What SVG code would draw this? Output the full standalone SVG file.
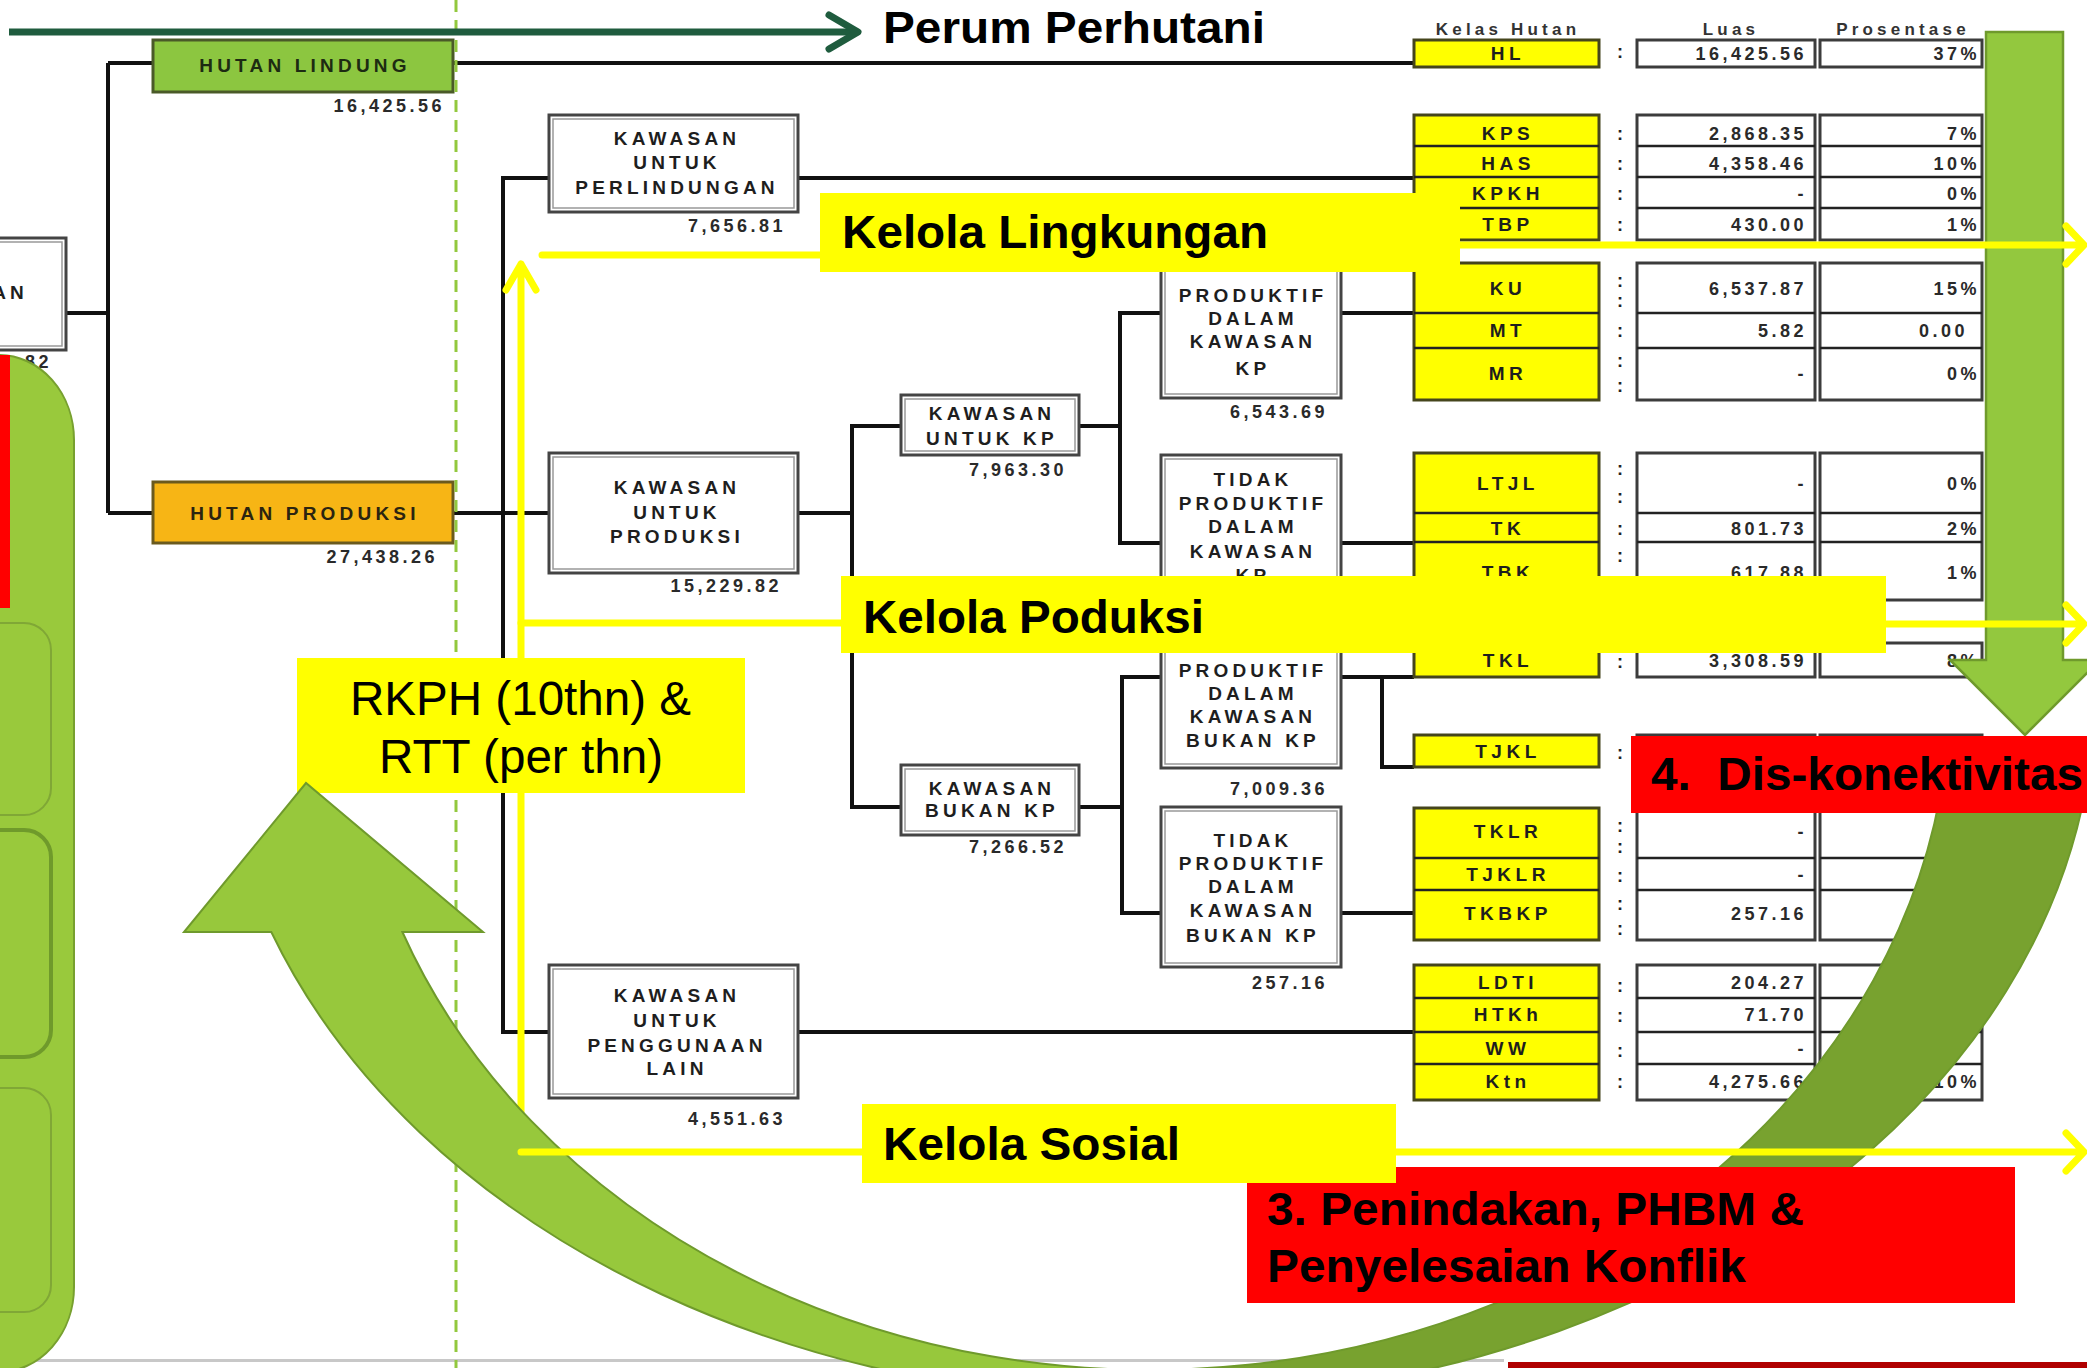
<svg xmlns="http://www.w3.org/2000/svg" width="2087" height="1368" viewBox="0 0 2087 1368">
<defs>
<style>
.t{font-family:"Liberation Sans",Arial,sans-serif;font-weight:bold;font-size:19px;letter-spacing:4.2px;fill:#1e1e1e;text-anchor:middle}
.n{font-family:"Liberation Sans",Arial,sans-serif;font-weight:bold;font-size:18px;letter-spacing:3.5px;fill:#2a2a2a;text-anchor:end}
.k{font-family:"Liberation Sans",Arial,sans-serif;font-weight:bold;font-size:19px;letter-spacing:4.5px;fill:#1e1e1e;text-anchor:middle}
.c{font-family:"Liberation Sans",Arial,sans-serif;font-weight:bold;font-size:18px;fill:#222;text-anchor:middle}
.h{font-family:"Liberation Sans",Arial,sans-serif;font-weight:bold;font-size:17px;letter-spacing:4.2px;fill:#333;text-anchor:middle}
.big{font-family:"Liberation Sans",Arial,sans-serif;font-weight:bold;font-size:47px;fill:#000}
.rk{font-family:"Liberation Sans",Arial,sans-serif;font-size:48px;fill:#000}
.box{fill:#fff;stroke:#444;stroke-width:3}
.boxi{fill:none;stroke:#999;stroke-width:1.5}
.ln{stroke:#111;stroke-width:4;fill:none}
.yc{fill:#ffff00;stroke:#45451c;stroke-width:3}
.wc{fill:#fff;stroke:#3c3c3c;stroke-width:3}
.sep{stroke:#222;stroke-width:2.5;fill:none}
.yl{stroke:#ffff00;stroke-width:7;fill:none;stroke-linecap:round;stroke-linejoin:round}
.yb{fill:#ffff00}
.rb{fill:#ff0000}
</style>
<linearGradient id="arcg" gradientUnits="userSpaceOnUse" x1="0" y1="0" x2="2087" y2="0">
<stop offset="0" stop-color="#97c83c"/><stop offset="0.551" stop-color="#97c83c"/><stop offset="0.551" stop-color="#78a22f"/><stop offset="1" stop-color="#78a22f"/>
</linearGradient>
</defs>
<rect x="0" y="0" width="2087" height="1368" fill="#fff"/>
<g id="slide-border">
<rect x="0" y="1359" width="1504" height="3" fill="#c8c8c8"/>
<rect x="1508" y="1362" width="590" height="6" fill="#b00000"/>
</g>
<g id="connectors">
<path class="ln" d="M66 313H108M108 63V513M108 63H153M108 513H153"/>
<path class="ln" d="M453 63H1414M453 513H549"/>
<path class="ln" d="M549 178H503V1032H549M798 178H1414M798 1032H1414"/>
<path class="ln" d="M798 513H852M901 426H852V807H901"/>
<path class="ln" d="M1079 426H1120M1161 313H1120V543H1161M1341 313H1414M1341 543H1414"/>
<path class="ln" d="M1079 807H1122M1161 677H1122V913H1161M1341 913H1414"/>
<path class="ln" d="M1341 677H1414M1382 677V767H1414"/>
</g>
<g id="nodes">
<g id="n-root">
<rect class="box" x="-10" y="238" width="76" height="112"/><rect class="boxi" x="-6" y="242" width="68" height="104"/>
<text class="t" x="28" y="299" style="text-anchor:end">AN</text>
<text class="n" x="52" y="368">43,863.82</text>
</g>
<g id="n-hl">
<rect x="153" y="40" width="300" height="52" fill="#8cc640" stroke="#4a5a28" stroke-width="3"/>
<text class="t" x="305" y="72" style="fill:#1d2b12">HUTAN LINDUNG</text>
<text class="n" x="445" y="112">16,425.56</text>
</g>
<g id="n-hp">
<rect x="153" y="482" width="300" height="61" fill="#f7b515" stroke="#6b5a1e" stroke-width="3"/>
<text class="t" x="305" y="520" style="fill:#2b2410">HUTAN PRODUKSI</text>
<text class="n" x="438" y="563">27,438.26</text>
</g>
<g id="n-kup">
<rect class="box" x="549" y="115" width="249" height="97"/><rect class="boxi" x="553" y="119" width="241" height="89"/>
<text class="t" x="677" y="145">KAWASAN</text><text class="t" x="677" y="169">UNTUK</text><text class="t" x="677" y="194">PERLINDUNGAN</text>
<text class="n" x="786" y="232">7,656.81</text>
</g>
<g id="n-kupr">
<rect class="box" x="549" y="453" width="249" height="120"/><rect class="boxi" x="553" y="457" width="241" height="112"/>
<text class="t" x="677" y="494">KAWASAN</text><text class="t" x="677" y="519">UNTUK</text><text class="t" x="677" y="543">PRODUKSI</text>
<text class="n" x="782" y="592">15,229.82</text>
</g>
<g id="n-kupl">
<rect class="box" x="549" y="965" width="249" height="133"/><rect class="boxi" x="553" y="969" width="241" height="125"/>
<text class="t" x="677" y="1002">KAWASAN</text><text class="t" x="677" y="1027">UNTUK</text><text class="t" x="677" y="1052">PENGGUNAAN</text><text class="t" x="677" y="1075">LAIN</text>
<text class="n" x="786" y="1125">4,551.63</text>
</g>
<g id="n-kkp">
<rect class="box" x="901" y="395" width="178" height="60"/><rect class="boxi" x="905" y="399" width="170" height="52"/>
<text class="t" x="992" y="420">KAWASAN</text><text class="t" x="992" y="445">UNTUK KP</text>
<text class="n" x="1067" y="476">7,963.30</text>
</g>
<g id="n-kbkp">
<rect class="box" x="901" y="765" width="178" height="70"/><rect class="boxi" x="905" y="769" width="170" height="62"/>
<text class="t" x="992" y="795">KAWASAN</text><text class="t" x="992" y="817">BUKAN KP</text>
<text class="n" x="1067" y="853">7,266.52</text>
</g>
<g id="n-pkp">
<rect class="box" x="1161" y="262" width="180" height="136"/><rect class="boxi" x="1165" y="266" width="172" height="128"/>
<text class="t" x="1253" y="302">PRODUKTIF</text><text class="t" x="1253" y="325">DALAM</text><text class="t" x="1253" y="348">KAWASAN</text><text class="t" x="1253" y="375">KP</text>
<text class="n" x="1328" y="418">6,543.69</text>
</g>
<g id="n-tpkp">
<rect class="box" x="1161" y="455" width="180" height="150"/><rect class="boxi" x="1165" y="459" width="172" height="142"/>
<text class="t" x="1253" y="486">TIDAK</text><text class="t" x="1253" y="510">PRODUKTIF</text><text class="t" x="1253" y="533">DALAM</text><text class="t" x="1253" y="558">KAWASAN</text><text class="t" x="1253" y="582">KP</text>
</g>
<g id="n-pbkp">
<rect class="box" x="1161" y="640" width="180" height="128"/><rect class="boxi" x="1165" y="644" width="172" height="120"/>
<text class="t" x="1253" y="677">PRODUKTIF</text><text class="t" x="1253" y="700">DALAM</text><text class="t" x="1253" y="723">KAWASAN</text><text class="t" x="1253" y="747">BUKAN KP</text>
<text class="n" x="1328" y="795">7,009.36</text>
</g>
<g id="n-tpbkp">
<rect class="box" x="1161" y="807" width="180" height="160"/><rect class="boxi" x="1165" y="811" width="172" height="152"/>
<text class="t" x="1253" y="847">TIDAK</text><text class="t" x="1253" y="870">PRODUKTIF</text><text class="t" x="1253" y="893">DALAM</text><text class="t" x="1253" y="917">KAWASAN</text><text class="t" x="1253" y="942">BUKAN KP</text>
<text class="n" x="1328" y="989">257.16</text>
</g>
</g>
<g id="table">
<text class="h" x="1508" y="35">Kelas Hutan</text>
<text class="h" x="1731" y="35">Luas</text>
<text class="h" x="1903" y="35">Prosentase</text>
<g id="t-hl">
<rect class="yc" x="1414" y="40" width="185" height="27"/><rect class="wc" x="1637" y="40" width="178" height="27"/><rect class="wc" x="1820" y="40" width="162" height="27"/>
<text class="k" x="1508" y="60">HL</text><text class="c" x="1620" y="58">:</text>
<text class="n" x="1807" y="60">16,425.56</text><text class="n" x="1980" y="60">37%</text>
</g>
<g id="t-g1">
<rect class="yc" x="1414" y="115" width="185" height="125"/><rect class="wc" x="1637" y="115" width="178" height="125"/><rect class="wc" x="1820" y="115" width="162" height="125"/>
<path class="sep" d="M1414 146H1599M1414 177H1599M1414 208H1599M1637 146H1815M1637 177H1815M1637 208H1815M1820 146H1982M1820 177H1982M1820 208H1982"/>
<text class="k" x="1508" y="140">KPS</text><text class="k" x="1508" y="170">HAS</text><text class="k" x="1508" y="200">KPKH</text><text class="k" x="1508" y="231">TBP</text>
<text class="c" x="1620" y="140">:</text><text class="c" x="1620" y="170">:</text><text class="c" x="1620" y="200">:</text><text class="c" x="1620" y="231">:</text>
<text class="n" x="1807" y="140">2,868.35</text><text class="n" x="1807" y="170">4,358.46</text><text class="n" x="1807" y="200">-</text><text class="n" x="1807" y="231">430.00</text>
<text class="n" x="1980" y="140">7%</text><text class="n" x="1980" y="170">10%</text><text class="n" x="1980" y="200">0%</text><text class="n" x="1980" y="231">1%</text>
</g>
<g id="t-g2">
<rect class="yc" x="1414" y="263" width="185" height="137"/><rect class="wc" x="1637" y="263" width="178" height="137"/><rect class="wc" x="1820" y="263" width="162" height="137"/>
<path class="sep" d="M1414 313H1599M1414 348H1599M1637 313H1815M1637 348H1815M1820 313H1982M1820 348H1982"/>
<text class="k" x="1508" y="295">KU</text><text class="k" x="1508" y="337">MT</text><text class="k" x="1508" y="380">MR</text>
<text class="c" x="1620" y="287">:</text><text class="c" x="1620" y="307">:</text><text class="c" x="1620" y="337">:</text><text class="c" x="1620" y="367">:</text><text class="c" x="1620" y="392">:</text>
<text class="n" x="1807" y="295">6,537.87</text><text class="n" x="1807" y="337">5.82</text><text class="n" x="1807" y="380">-</text>
<text class="n" x="1980" y="295">15%</text><text class="n" x="1968" y="337">0.00</text><text class="n" x="1980" y="380">0%</text>
</g>
<g id="t-g3">
<rect class="yc" x="1414" y="453" width="185" height="224"/><rect class="wc" x="1637" y="453" width="178" height="147"/><rect class="wc" x="1820" y="453" width="162" height="147"/>
<rect class="wc" x="1637" y="643" width="178" height="34"/><rect class="wc" x="1820" y="643" width="162" height="34"/>
<path class="sep" d="M1414 513H1599M1414 542H1599M1414 620H1599M1637 513H1815M1637 542H1815M1820 513H1982M1820 542H1982"/>
<text class="k" x="1508" y="490">LTJL</text><text class="k" x="1508" y="535">TK</text><text class="k" x="1508" y="579">TBK</text><text class="k" x="1508" y="667">TKL</text>
<text class="c" x="1620" y="475">:</text><text class="c" x="1620" y="503">:</text><text class="c" x="1620" y="535">:</text><text class="c" x="1620" y="562">:</text><text class="c" x="1620" y="668">:</text>
<text class="n" x="1807" y="490">-</text><text class="n" x="1807" y="535">801.73</text><text class="n" x="1807" y="579">617.88</text><text class="n" x="1807" y="667">3,308.59</text>
<text class="n" x="1980" y="490">0%</text><text class="n" x="1980" y="535">2%</text><text class="n" x="1980" y="579">1%</text><text class="n" x="1980" y="667">8%</text>
</g>
<g id="t-tjkl">
<rect class="yc" x="1414" y="735" width="185" height="32"/><rect class="wc" x="1637" y="735" width="178" height="32"/><rect class="wc" x="1820" y="735" width="162" height="32"/>
<text class="k" x="1508" y="758">TJKL</text><text class="c" x="1620" y="759">:</text>
</g>
<g id="t-g4">
<rect class="yc" x="1414" y="808" width="185" height="132"/><rect class="wc" x="1637" y="808" width="178" height="132"/><rect class="wc" x="1820" y="808" width="162" height="132"/>
<path class="sep" d="M1414 858H1599M1414 890H1599M1637 858H1815M1637 890H1815M1820 858H1982M1820 890H1982"/>
<text class="k" x="1508" y="838">TKLR</text><text class="k" x="1508" y="881">TJKLR</text><text class="k" x="1508" y="920">TKBKP</text>
<text class="c" x="1620" y="832">:</text><text class="c" x="1620" y="853">:</text><text class="c" x="1620" y="882">:</text><text class="c" x="1620" y="910">:</text><text class="c" x="1620" y="935">:</text>
<text class="n" x="1807" y="838">-</text><text class="n" x="1807" y="881">-</text><text class="n" x="1807" y="920">257.16</text>
</g>
<g id="t-g5">
<rect class="yc" x="1414" y="965" width="185" height="135"/><rect class="wc" x="1637" y="965" width="178" height="135"/><rect class="wc" x="1820" y="965" width="162" height="135"/>
<path class="sep" d="M1414 998H1599M1414 1032H1599M1414 1064H1599M1637 998H1815M1637 1032H1815M1637 1064H1815M1820 998H1982M1820 1032H1982M1820 1064H1982"/>
<text class="k" x="1508" y="989">LDTI</text><text class="k" x="1508" y="1021">HTKh</text><text class="k" x="1508" y="1055">WW</text><text class="k" x="1508" y="1088">Ktn</text>
<text class="c" x="1620" y="992">:</text><text class="c" x="1620" y="1022">:</text><text class="c" x="1620" y="1057">:</text><text class="c" x="1620" y="1088">:</text>
<text class="n" x="1807" y="989">204.27</text><text class="n" x="1807" y="1021">71.70</text><text class="n" x="1807" y="1055">-</text><text class="n" x="1807" y="1088">4,275.66</text>
<text class="n" x="1980" y="1088">10%</text>
</g>
</g>
<g id="left-panel">
<rect x="-140" y="355" width="214" height="1017" rx="75" ry="85" fill="#99c93c" stroke="#77a02f" stroke-width="2"/>
<rect x="-100" y="623" width="151" height="192" rx="27" ry="27" fill="none" stroke="#80a736" stroke-width="2"/>
<rect x="-100" y="830" width="151" height="227" rx="27" ry="27" fill="none" stroke="#6f9a2b" stroke-width="4"/>
<rect x="-100" y="1088" width="151" height="224" rx="27" ry="27" fill="none" stroke="#80a736" stroke-width="2"/>
<rect x="0" y="355" width="10" height="253" fill="#ff0000"/>
</g>
<line x1="456" y1="0" x2="456" y2="1368" stroke="#92c83e" stroke-width="3" stroke-dasharray="12 8"/>
<g id="yellow-vertical">
<path class="yl" d="M521 264V1152M506 290L521 264L536 290"/>
</g>
<g id="rkph">
<rect class="yb" x="297" y="658" width="448" height="135"/>
<text class="rk" x="350" y="715" textLength="341" lengthAdjust="spacingAndGlyphs">RKPH (10thn) &amp;</text>
<text class="rk" x="379" y="773" textLength="284" lengthAdjust="spacingAndGlyphs">RTT (per thn)</text>
</g>
<g id="down-arrow">
<path d="M1986 32H2063V660H2100L2025 735L1950 660H1986Z" fill="#93c83e" stroke="#6f9a2c" stroke-width="2.5"/>
</g>
<g id="curved-arrow">
<path d="M2089 770A940 710 0 0 1 271.3 932L184 932L306 783L483 932L402.4 932A800 680 0 0 0 1944.4 770Z" fill="url(#arcg)" stroke="#6f9a2c" stroke-width="2"/>
</g>
<g id="yellow-lines">
<path class="yl" d="M542 255H820M1460 245H2083M2066 226L2084 245L2066 264"/>
<path class="yl" d="M521 623H841M1886 624H2083M2066 605L2084 624L2066 643"/>
<path class="yl" d="M521 1152H862M1396 1152H2083M2066 1133L2084 1152L2066 1171"/>
</g>
<g id="red-boxes">
<g id="rb4">
<rect class="rb" x="1631" y="736" width="470" height="77"/>
<text class="big" x="1651" y="790" xml:space="preserve" textLength="432" lengthAdjust="spacingAndGlyphs">4.  Dis-konektivitas</text>
</g>
<g id="rb3">
<rect class="rb" x="1247" y="1167" width="768" height="136"/>
<text class="big" x="1267" y="1225" textLength="537" lengthAdjust="spacingAndGlyphs">3. Penindakan, PHBM &amp;</text>
<text class="big" x="1267" y="1282" textLength="479" lengthAdjust="spacingAndGlyphs">Penyelesaian Konflik</text>
</g>
</g>
<g id="kelola">
<g id="k-lingkungan">
<rect class="yb" x="820" y="193" width="640" height="79"/>
<text class="big" x="842" y="248" textLength="426" lengthAdjust="spacingAndGlyphs">Kelola Lingkungan</text>
</g>
<g id="k-produksi">
<rect class="yb" x="841" y="576" width="1045" height="77"/>
<text class="big" x="863" y="633" textLength="341" lengthAdjust="spacingAndGlyphs">Kelola Poduksi</text>
</g>
<g id="k-sosial">
<rect class="yb" x="862" y="1104" width="534" height="79"/>
<text class="big" x="883" y="1160" textLength="297" lengthAdjust="spacingAndGlyphs">Kelola Sosial</text>
</g>
</g>
<g id="perum">
<path d="M9 32H856" fill="none" stroke="#1f5c3e" stroke-width="7"/>
<path d="M829 15L858 32L829 49" fill="none" stroke="#1f5c3e" stroke-width="7" stroke-linecap="round" stroke-linejoin="round"/>
<text class="big" x="883" y="43" style="font-size:45px" textLength="382" lengthAdjust="spacingAndGlyphs">Perum Perhutani</text>
</g>
</svg>
